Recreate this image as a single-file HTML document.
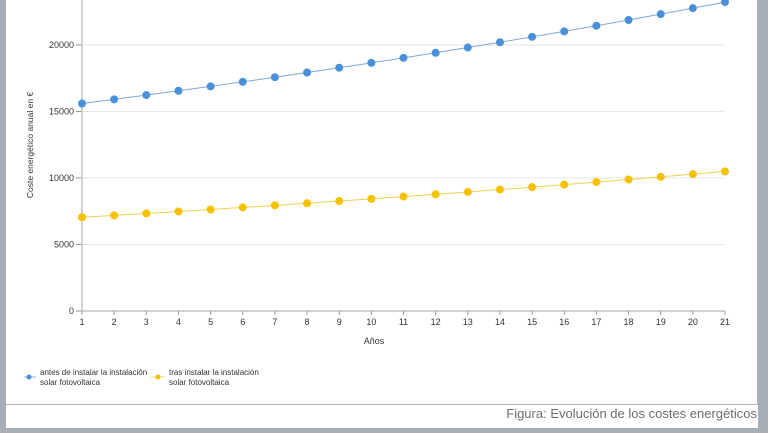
<!DOCTYPE html>
<html><head><meta charset="utf-8"><style>
html,body{margin:0;padding:0;background:#a7aeb6;}
#w{position:relative;width:768px;height:433px;overflow:hidden;background:#a7aeb6;}
svg{position:absolute;left:0;top:0;}
text{font-family:"Liberation Sans",sans-serif;}
</style></head><body><div id="w">
<svg id="s" width="768" height="433" xmlns="http://www.w3.org/2000/svg">
<rect x="6" y="0" width="752" height="428" fill="#fff"/>
<line x1="6" y1="404.5" x2="757" y2="404.5" stroke="#b4b4b4" stroke-width="1"/>
<line x1="757.5" y1="0" x2="757.5" y2="405" stroke="#b4b4b4" stroke-width="1"/>
<text x="757" y="418" text-anchor="end" font-size="13" fill="#6d6d6d">Figura: Evolución de los costes energéticos</text>
<g id="g"></g>
<text x="374" y="344" text-anchor="middle" font-size="9" fill="#333">Años</text>
<text transform="translate(33,145) rotate(-90)" text-anchor="middle" font-size="8.5" fill="#333">Coste energético anual en €</text>
<line x1="24" y1="377" x2="36" y2="377" stroke="#8fb5de"/>
<circle cx="29" cy="377" r="2.5" fill="#4a90d9"/>
<text x="40" y="375" font-size="8" fill="#333">antes de instalar la instalación</text>
<text x="40" y="385" font-size="8" fill="#333">solar fotovoltaica</text>
<line x1="151" y1="377" x2="165" y2="377" stroke="#f5d870"/>
<circle cx="158" cy="377" r="2.5" fill="#f5c100"/>
<text x="169" y="375" font-size="8" fill="#333">tras instalar la instalación</text>
<text x="169" y="385" font-size="8" fill="#333">solar fotovoltaica</text>
</svg></div>
<script>
var g=document.getElementById('g'),h='';
function X(i){return 82+(i-1)*32.15;}
function Y(v){return 311-v*0.0133;}
[0,5000,10000,15000,20000].forEach(function(v){var y=Y(v);
 if(v>0)h+='<line x1="82" y1="'+y+'" x2="725" y2="'+y+'" stroke="#e6e6e6"/>';
 h+='<line x1="76" y1="'+y+'" x2="82" y2="'+y+'" stroke="#999"/>';
 h+='<text x="74" y="'+(y+3)+'" text-anchor="end" font-size="9" fill="#333">'+v+'</text>';});
h+='<line x1="82" y1="0" x2="82" y2="311" stroke="#c4c4c4" stroke-width="1.5"/>';
h+='<line x1="82" y1="311" x2="725" y2="311" stroke="#c4c4c4" stroke-width="1.5"/>';
for(var i=1;i<=21;i++){var x=X(i);h+='<line x1="'+x+'" y1="311" x2="'+x+'" y2="315" stroke="#999"/>';
 h+='<text x="'+x+'" y="325" text-anchor="middle" font-size="9" fill="#333">'+i+'</text>';}
function ser(b,c,lc){var p='',d='';for(var i=1;i<=21;i++){var v=b*Math.pow(1.0201,i-1);p+=X(i)+','+Y(v)+' ';
 d+='<circle cx="'+X(i)+'" cy="'+Y(v)+'" r="4" fill="'+c+'"/>';}
 return '<polyline points="'+p+'" fill="none" stroke="'+lc+'" stroke-width="1"/>'+d;}
h+=ser(15600,'#4a90d9','#7ea9d6');h+=ser(7050,'#f5c100','#f0cf55');
g.innerHTML=h;
</script></body></html>
